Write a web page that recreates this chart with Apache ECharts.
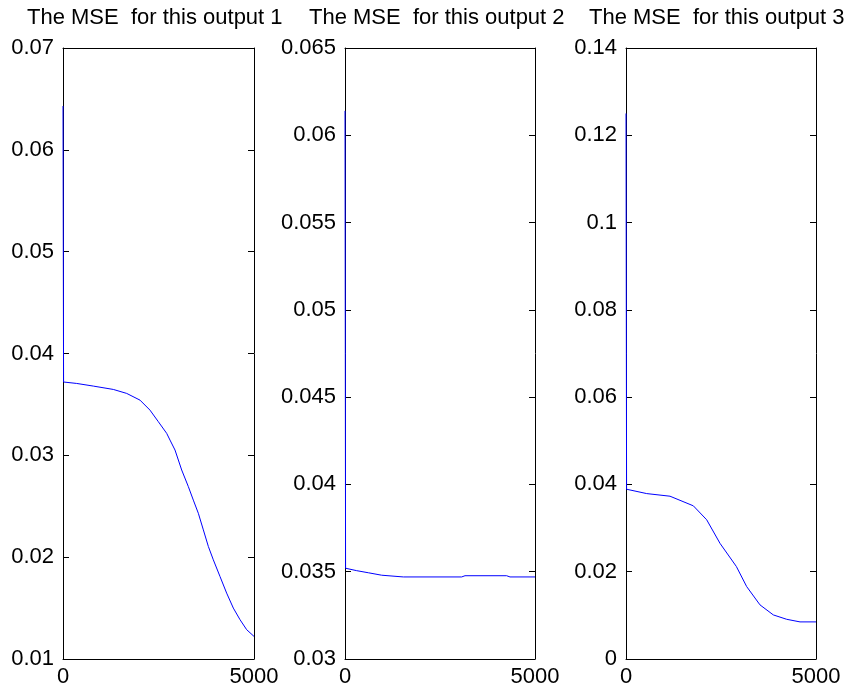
<!DOCTYPE html>
<html>
<head>
<meta charset="utf-8">
<script src="https://cdn.jsdelivr.net/npm/echarts@6/dist/echarts.min.js"></script>
<style>
html,body{margin:0;padding:0;background:#fff;}
#chart{width:856px;height:692px;}
</style>
</head>
<body>
<div id="chart"></div>
<script>
// ---- data ----
var titles = ["The MSE  for this output 1", "The MSE  for this output 2", "The MSE  for this output 3"];
var epochs1 = [0, 15, 358, 794, 1318, 1667, 2016, 2277, 2496, 2714, 2801, 2932, 3107, 3281, 3412, 3543, 3674, 3805, 3935, 4110, 4284, 4459, 4634, 4808, 5000];
var mse1 = [0.0643, 0.0372, 0.03706, 0.0368, 0.03647, 0.03608, 0.03542, 0.03444, 0.0333, 0.03216, 0.0315, 0.03052, 0.02856, 0.02693, 0.0256, 0.02431, 0.02268, 0.02105, 0.01974, 0.0181, 0.01647, 0.0150, 0.01386, 0.01288, 0.01222];
var epochs2 = [0, 15, 307, 614, 965, 1535, 3070, 3158, 4254, 4342, 5000];
var mse2 = [0.0614, 0.0352, 0.03506, 0.03494, 0.0348, 0.0347, 0.0347, 0.03477, 0.03477, 0.0347, 0.0347];
var epochs3 = [0, 15, 544, 1158, 1772, 2123, 2474, 2904, 3175, 3526, 3877, 4228, 4579, 5000];
var mse3 = [0.125, 0.0389, 0.0379, 0.0373, 0.0351, 0.0319, 0.0265, 0.0212, 0.0166, 0.0124, 0.0101, 0.0091, 0.0085, 0.0085];
var xTicks = [0, 5000];
var yMin = [0.01, 0.03, 0];
var yMax = [0.07, 0.065, 0.14];
var yStep = [0.01, 0.005, 0.02];

// ---- layout ----
var lefts = [63, 345, 626];
var widths = [191, 190, 190];
var titleLefts = [27, 309, 589];
var top0 = 48, h0 = 611;
var FONT = "'Liberation Sans', Arial, sans-serif";

var series = [[epochs1, mse1], [epochs2, mse2], [epochs3, mse3]];
var grids = [], xAxes = [], yAxes = [], ser = [], ttl = [];
for (var i = 0; i < 3; i++) {
  grids.push({left: lefts[i], top: top0, width: widths[i], height: h0, containLabel: false});
  var axLine = {show: true, onZero: false, lineStyle: {color: '#000', width: 1}};
  var tick = {show: true, inside: true, length: 6, lineStyle: {color: '#000'}};
  xAxes.push({type: 'value', gridIndex: i, position: 'bottom', min: xTicks[0], max: xTicks[1], interval: xTicks[1] - xTicks[0],
    axisLine: axLine, axisTick: tick, splitLine: {show: false},
    axisLabel: {color: '#000', fontSize: 22, fontFamily: FONT, margin: 7, formatter: function (v) { return String(v); }}});
  xAxes.push({type: 'value', gridIndex: i, position: 'top', min: xTicks[0], max: xTicks[1], interval: xTicks[1] - xTicks[0],
    axisLine: axLine, axisTick: tick, splitLine: {show: false}, axisLabel: {show: false}});
  yAxes.push({type: 'value', gridIndex: i, position: 'left', min: yMin[i], max: yMax[i], interval: yStep[i],
    axisLine: axLine, axisTick: tick, splitLine: {show: false},
    axisLabel: {color: '#000', fontSize: 22, fontFamily: FONT, margin: 9}});
  yAxes.push({type: 'value', gridIndex: i, position: 'right', min: yMin[i], max: yMax[i], interval: yStep[i],
    axisLine: axLine, axisTick: tick, splitLine: {show: false}, axisLabel: {show: false}});
  var d = [];
  for (var k = 0; k < series[i][0].length; k++) d.push([series[i][0][k], series[i][1][k]]);
  ser.push({type: 'line', xAxisIndex: 2 * i, yAxisIndex: 2 * i, data: d, showSymbol: false, symbol: 'none',
    lineStyle: {color: '#0000ff', width: 1}, silent: true});
  ttl.push({text: titles[i], left: titleLefts[i], top: 7, padding: 0,
    textStyle: {color: '#000', fontSize: 22, fontWeight: 'normal', fontFamily: FONT}});
}

var chart = echarts.init(document.getElementById('chart'), null, {renderer: 'canvas'});
chart.setOption({
  backgroundColor: '#fff',
  animation: false,
  title: ttl,
  grid: grids,
  xAxis: xAxes,
  yAxis: yAxes,
  series: ser
});
</script>
</body>
</html>
